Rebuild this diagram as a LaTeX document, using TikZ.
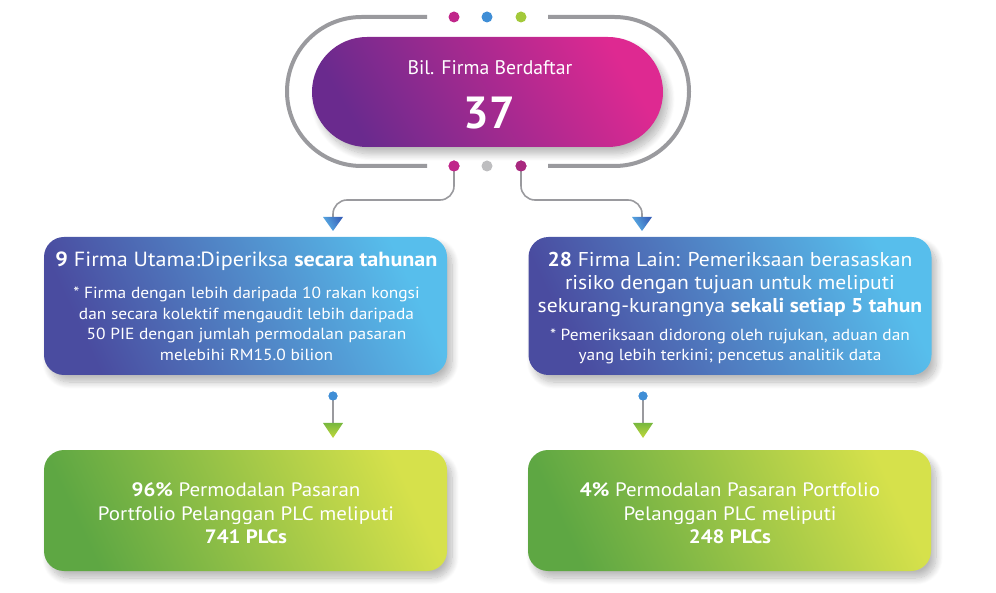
\documentclass[tikz,border=0pt]{standalone}
\usepackage{fontspec}
\setmainfont{PT Sans}
\newfontfamily\boxfont{PT Sans}[FakeStretch=1.08]
\usetikzlibrary{shadows.blur}
\definecolor{framegray}{HTML}{9A9A9E}
\definecolor{pillA}{HTML}{6A2A8E}
\definecolor{pillM}{HTML}{952A8E}
\definecolor{pillB}{HTML}{DE2991}
\definecolor{blueA}{HTML}{4A4CA0}
\definecolor{blueM}{HTML}{4E74BC}
\definecolor{blueB}{HTML}{57BEEC}
\definecolor{greenA}{HTML}{5EA743}
\definecolor{greenM}{HTML}{86BE41}
\definecolor{greenB}{HTML}{D6E14B}
\definecolor{dotmag}{HTML}{C0268A}
\definecolor{dotmagb}{HTML}{A8287F}
\definecolor{dotblue}{HTML}{3F8ED6}
\definecolor{dotgreen}{HTML}{A3C93A}
\definecolor{dotgray}{HTML}{BEBEC0}
\definecolor{arrblueA}{HTML}{5BB3E8}
\definecolor{arrblueB}{HTML}{3A64BA}
\definecolor{arrgreenA}{HTML}{78B83F}
\definecolor{arrgreenB}{HTML}{C2D93A}
\begin{document}
\begin{tikzpicture}[x=1pt,y=-1pt,
  softshadow/.style={blur shadow={shadow xshift=5pt, shadow yshift=-7pt, shadow blur radius=7pt, shadow blur steps=12, shadow opacity=28}},
  pill/.style={rectangle, rounded corners=55pt, minimum width=351pt, minimum height=110pt, inner sep=0pt,
    left color=pillA, middle color=pillM, right color=pillB, shading angle=120, softshadow},
  bluebox/.style={rectangle, rounded corners=20pt, minimum width=403pt, minimum height=138pt, inner sep=0pt,
    left color=blueA, middle color=blueM, right color=blueB, shading angle=115, softshadow},
  greenbox/.style={rectangle, rounded corners=20pt, minimum width=403pt, minimum height=121pt, inner sep=0pt,
    left color=greenA, middle color=greenM, right color=greenB, shading angle=115, softshadow},
  frame/.style={draw=framegray, line width=4pt, rounded corners=74.5pt},
  dot/.style={circle, minimum size=11pt, inner sep=0pt},
  smalldot/.style={circle, minimum size=9pt, inner sep=0pt, fill=dotblue},
  conn/.style={draw=framegray, line width=1.6pt},
  txt/.style={text=white, align=center, inner sep=0pt},
]
\useasboundingbox (0,0) rectangle (996,593);

% outer frame
\draw[frame] (427,17) -- (287,17) -- (287,166) -- (427,166);
\draw[frame] (548,17) -- (689,17) -- (689,166) -- (548,166);

% dots
\node[dot, fill=dotmag] (t1) at (454,17) {};
\node[dot, fill=dotblue] (t2) at (487,17) {};
\node[dot, fill=dotgreen] (t3) at (521,17) {};
\node[dot, fill=dotmag] (b1) at (454,166) {};
\node[dot, fill=dotgray] (b2) at (487,166) {};
\node[dot, fill=dotmagb] (b3) at (521,166) {};

% top pill
\node[pill] (top) at (487.5,92) {};
\node[txt, font=\fontsize{19.7}{24}\selectfont] (toplabel) at (490,68) {Bil. Firma Berdaftar};
\node[txt, font=\fontsize{45}{48}\selectfont\bfseries] (topnum) at (489.5,113) {37};

% blue boxes
\node[bluebox] (L) at (245.5,306) {};
\node[bluebox] (R) at (730,306) {};
\node[txt, font=\boxfont\fontsize{20.5}{23}\selectfont] (Ltitle) at (246.5,261) {\textbf{9} Firma Utama:Diperiksa \textbf{secara tahunan}};
\node[txt, font=\boxfont\fontsize{16.1}{20.5}\selectfont] (Lsub) at (246.5,324) {* Firma dengan lebih daripada 10 rakan kongsi\\dan secara kolektif mengaudit lebih daripada\\50 PIE dengan jumlah permodalan pasaran\\melebihi RM15.0 bilion};
\node[txt, font=\boxfont\fontsize{20}{23}\selectfont] (Rtitle) at (730,284) {\textbf{28} Firma Lain: Pemeriksaan berasaskan\\risiko dengan tujuan untuk meliputi\\sekurang-kurangnya \textbf{sekali setiap 5 tahun}};
\node[txt, font=\boxfont\fontsize{16.1}{19.5}\selectfont] (Rsub) at (730,346.5) {* Pemeriksaan didorong oleh rujukan, aduan dan\\yang lebih terkini; pencetus analitik data};

% green boxes
\node[greenbox] (GL) at (245.5,510.5) {};
\node[greenbox] (GR) at (729.5,510.5) {};
\node[txt, font=\boxfont\fontsize{19.4}{23.5}\selectfont] (GLt) at (246,513.5) {\textbf{96\%} Permodalan Pasaran\\Portfolio Pelanggan PLC meliputi\\\textbf{741 PLCs}};
\node[txt, font=\boxfont\fontsize{19.4}{23.5}\selectfont] (GRt) at (730,513.5) {\textbf{4\%} Permodalan Pasaran Portfolio\\Pelanggan PLC meliputi\\\textbf{248 PLCs}};

% top connectors
\coordinate (hy) at (0,200);
\coordinate (a1) at (333,217);
\coordinate (a2) at (642,217);
\draw[conn, rounded corners=14pt] (b1.center) -- (b1 |- hy) -- (a1 |- hy) -- (a1);
\draw[conn, rounded corners=14pt] (b3.center) -- (b3 |- hy) -- (a2 |- hy) -- (a2);
\node[dot, fill=dotmag] at (b1) {};
\node[dot, fill=dotmagb] at (b3) {};
\shade[left color=arrblueA, right color=arrblueB, shading angle=120] (a1) ++(-10,0) -- ++(20,0) -- ++(-10,14) -- cycle;
\shade[left color=arrblueA, right color=arrblueB, shading angle=120] (a2) ++(-10,0) -- ++(20,0) -- ++(-10,14) -- cycle;

% lower connectors
\node[smalldot] (d1) at (333,396) {};
\node[smalldot] (d2) at (643,396) {};
\coordinate (g1) at (333,423);
\coordinate (g2) at (643,423);
\draw[conn] (d1.center) -- (g1);
\draw[conn] (d2.center) -- (g2);
\node[smalldot] at (d1) {};
\node[smalldot] at (d2) {};
\shade[top color=arrgreenA, bottom color=arrgreenB] (g1) ++(-10,0) -- ++(20,0) -- ++(-10,15) -- cycle;
\shade[top color=arrgreenA, bottom color=arrgreenB] (g2) ++(-10,0) -- ++(20,0) -- ++(-10,15) -- cycle;
\end{tikzpicture}
\end{document}
